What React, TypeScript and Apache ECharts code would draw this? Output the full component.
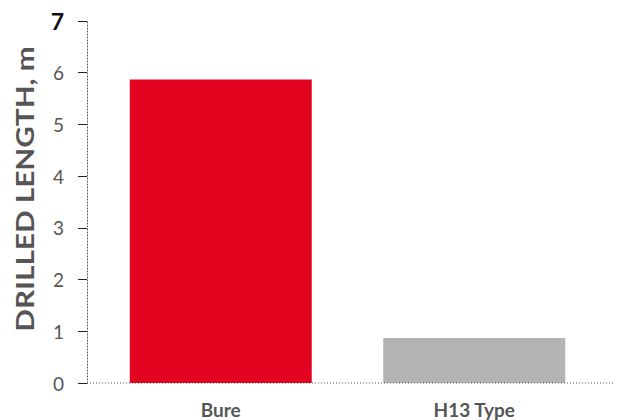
import React, { useEffect, useRef } from "react";
import * as echarts from "echarts";

const categories = ["Bure", "H13 Type"];
const values = [5.87, 0.87];
const barColors = ["#e30520", "#b3b3b3"];
const yTicks = [0, 1, 2, 3, 4, 5, 6, 7];
const yAxisTitle = "DRILLED LENGTH, m";

export default function App() {
  const ref = useRef<HTMLDivElement>(null);
  useEffect(() => {
    document.body.style.margin = "0";
    if (!ref.current) return;
    const chart = echarts.init(ref.current, undefined, { renderer: "svg" });
    chart.setOption({
      animation: false,
      grid: { left: 94, right: 18, top: 21, bottom: 37 },
      xAxis: {
        type: "category",
        data: categories,
        axisLine: { show: false },
        axisTick: { show: false },
        axisLabel: {
          margin: 17,
          color: "#555",
          fontFamily: "Lato",
          fontWeight: "bold",
          fontSize: 19,
        },
      },
      yAxis: {
        type: "value",
        min: yTicks[0],
        max: yTicks[yTicks.length - 1],
        interval: 1,
        offset: 7,
        axisLine: {
          show: true,
          lineStyle: { color: "#555", type: [1, 2], width: 1 },
        },
        axisTick: { show: true, length: 9, lineStyle: { color: "#222" } },
        splitLine: { show: false },
        axisLabel: {
          margin: 23,
          fontFamily: "Lato",
          fontSize: 19,
          color: "#555",
          formatter: (v: number) => (v === 7 ? "{b|7}" : String(v)),
          rich: {
            b: { fontFamily: "Lato", fontSize: 23, fontWeight: "bold", color: "#111" },
          },
        },
      },
      graphic: [
        {
          type: "line",
          shape: { x1: 87, y1: 383, x2: 615, y2: 383 },
          style: { stroke: "#555", lineWidth: 1, lineDash: [1, 2] },
          z: 10,
        },
        {
          type: "text",
          x: 25,
          y: 189,
          rotation: Math.PI / 2,
          scaleX: 1.24,
          style: {
            text: yAxisTitle,
            fontFamily: "Lato",
            fontWeight: "bold",
            fontSize: 24,
            fill: "#555",
            align: "center",
            verticalAlign: "middle",
          },
        },
      ],
      series: [
        {
          type: "bar",
          data: values.map((v, i) => ({ value: v, itemStyle: { color: barColors[i] } })),
          barWidth: 182,
        },
      ],
    });
    return () => chart.dispose();
  }, []);
  return <div ref={ref} style={{ width: 619, height: 420 }} />;
}
